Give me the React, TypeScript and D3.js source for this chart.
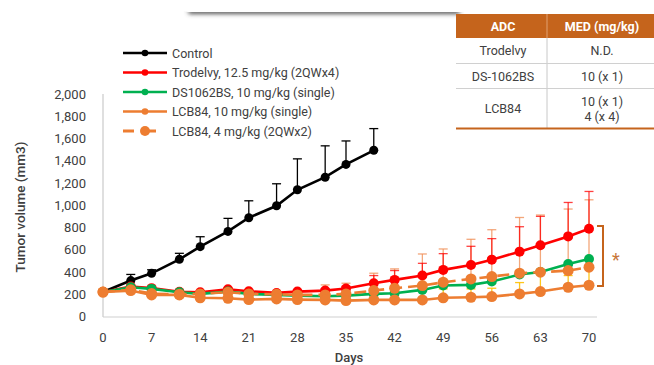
import * as d3 from "d3";
import React from "react";

const days = [0, 4, 7, 11, 14, 18, 21, 25, 28, 32, 35, 39, 42, 46, 49, 53, 56, 60, 63, 67, 70];
const controlDays = [0, 4, 7, 11, 14, 18, 21, 25, 28, 32, 35, 39];

const control = [220, 323, 388, 514, 628, 765, 888, 995, 1139, 1252, 1367, 1494];
const controlErr = [0, 55, 32, 54, 89, 117, 152, 198, 278, 282, 211, 195];

const trodelvy = [220, 269, 255, 222, 218, 245, 227, 212, 224, 233, 252, 299, 329, 368, 419, 463, 511, 583, 640, 720, 789];
const trodelvyErr = [0, 10, 12, 10, 10, 12, 10, 10, 10, 15, 20, 69, 84, 110, 146, 168, 189, 224, 260, 305, 335];

const ds1062 = [220, 263, 248, 218, 203, 224, 203, 194, 188, 182, 188, 203, 209, 239, 278, 284, 314, 377, 400, 472, 517];

const lcb10 = [220, 233, 194, 194, 168, 164, 152, 158, 152, 149, 143, 149, 149, 149, 168, 173, 179, 203, 224, 263, 281];
const lcb10Err = [0, 20, 30, 30, 40, 40, 40, 40, 40, 45, 45, 50, 60, 99, 80, 75, 75, 102, 174, 105, 150];

const lcb4 = [220, 240, 206, 200, 203, 218, 203, 200, 194, 194, 203, 233, 254, 278, 308, 338, 359, 389, 398, 413, 443];
const lcb4Err = [0, 10, 10, 10, 10, 10, 10, 10, 20, 90, 96, 156, 174, 284, 299, 356, 421, 501, 514, 553, 606];

const yTicks = [0, 200, 400, 600, 800, 1000, 1200, 1400, 1600, 1800, 2000];
const xTicks = [0, 7, 14, 21, 28, 35, 42, 49, 56, 63, 70];

const legendLabels = [
  "Control",
  "Trodelvy, 12.5 mg/kg (2QWx4)",
  "DS1062BS, 10 mg/kg (single)",
  "LCB84, 10 mg/kg (single)",
  "LCB84, 4 mg/kg (2QWx2)",
];

const tableHead = ["ADC", "MED (mg/kg)"];
const tableRows = [
  ["Trodelvy", ["N.D."]],
  ["DS-1062BS", ["10 (x 1)"]],
  ["LCB84", ["10 (x 1)", "4 (x 4)"]],
] as [string, string[]][];

const BLACK = "#000000";
const RED = "#ff0000";
const GREEN = "#00b050";
const ORANGE = "#ed7d31";
const GOLD = "#ffc000";
const BRICK = "#c5641c";
const TEXT = "#404040";
const FONT = "Roboto, 'Noto Sans', sans-serif";

export default function App() {
  const width = 654;
  const height = 365;

  const x = d3.scaleLinear().domain([0, 70]).range([103, 589]);
  const y = d3.scaleLinear().domain([0, 2000]).range([316.5, 94]);

  const line = d3
    .line<[number, number]>()
    .x((d) => x(d[0]))
    .y((d) => y(d[1]));

  const pts = (xs: number[], vs: number[]) => xs.map((d, i) => [d, vs[i]] as [number, number]);

  const errBars = (xs: number[], vs: number[], es: number[], color: string, op: number, key: string) =>
    xs.map((d, i) =>
      es[i] > 0 ? (
        <g key={key + i} stroke={color} strokeOpacity={op} strokeWidth={1.3}>
          <line x1={x(d)} x2={x(d)} y1={y(vs[i])} y2={y(vs[i] + es[i])} />
          <line x1={x(d) - 4.5} x2={x(d) + 4.5} y1={y(vs[i] + es[i])} y2={y(vs[i] + es[i])} />
        </g>
      ) : null
    );

  const series = [
    { xs: controlDays, vs: control, color: BLACK, r: 4.5, dash: "" },
    { xs: days, vs: trodelvy, color: RED, r: 5, dash: "" },
    { xs: days, vs: ds1062, color: GREEN, r: 5, dash: "" },
    { xs: days, vs: lcb4, color: ORANGE, r: 5.5, dash: "12 6" },
    { xs: days, vs: lcb10, color: ORANGE, r: 5.5, dash: "" },
  ];

  const legendColors = [BLACK, RED, GREEN, ORANGE, ORANGE];
  const legendY = d3.scalePoint<number>().domain(d3.range(5)).range([53, 131]);

  const rowY = [14, 38, 63.5, 88.5, 128.5];

  return (
    <svg width={width} height={height} style={{ position: "absolute", left: 0, top: 0, background: "#fff" }}>
      <defs>
        <filter id="blur" x="-10%" y="-200%" width="120%" height="500%">
          <feGaussianBlur stdDeviation="2.2" />
        </filter>
      </defs>

      {/* cut-off panel shadow */}
      <rect x={188} y={9} width={272} height={5} rx={3} fill="#555" filter="url(#blur)" />
      <rect x={180} y={-10} width={290} height={22} rx={8} fill="#fff" />

      {/* axes */}
      <line x1={103} x2={103} y1={94} y2={317} stroke="#bfbfbf" strokeWidth={1} />
      <line x1={103} x2={597} y1={317} y2={317} stroke="#d0d0d0" strokeWidth={1.2} />

      {yTicks.map((t) => (
        <text key={t} x={86} y={y(t)} dy="0.36em" textAnchor="end" fontFamily={FONT} fontSize={13} fill={TEXT}>
          {d3.format(",")(t)}
        </text>
      ))}
      {xTicks.map((t) => (
        <text key={t} x={x(t)} y={337} dy="0.36em" textAnchor="middle" fontFamily={FONT} fontSize={13} fill={TEXT}>
          {t}
        </text>
      ))}
      <text
        transform="translate(20,207) rotate(-90)"
        textAnchor="middle"
        dy="0.36em"
        fontFamily={FONT}
        fontSize={13.5}
        fontWeight={500}
        fill={TEXT}
      >
        Tumor volume (mm3)
      </text>
      <text x={349} y={357} dy="0.36em" textAnchor="middle" fontFamily={FONT} fontSize={13} fontWeight={500} fill={TEXT}>
        Days
      </text>

      {/* error bars */}
      {errBars(controlDays, control, controlErr, BLACK, 1, "c")}
      {errBars(days, lcb10, lcb10Err, GOLD, 0.9, "g")}
      {errBars(days, lcb4, lcb4Err, "#f0915a", 0.8, "o")}
      {errBars(days, trodelvy, trodelvyErr, RED, 0.75, "r")}

      {/* series */}
      {series.map((s, k) => (
        <g key={k}>
          <path
            d={line(pts(s.xs, s.vs)) || ""}
            fill="none"
            stroke={s.color}
            strokeWidth={2.6}
            strokeDasharray={s.dash}
          />
          {s.xs.map((d, i) => (
            <circle key={i} cx={x(d)} cy={y(s.vs[i])} r={s.r} fill={s.color} />
          ))}
        </g>
      ))}

      {/* legend */}
      {legendLabels.map((lab, i) => (
        <g key={lab} transform={`translate(0,${legendY(i)})`}>
          <line
            x1={123}
            x2={167}
            stroke={legendColors[i]}
            strokeWidth={i === 4 ? 3 : 2.6}
            strokeDasharray={i === 4 ? "11 11" : ""}
          />
          <circle cx={145} cy={0} r={i === 4 ? 5 : 3.3} fill={legendColors[i]} />
          <text x={172} dy="0.36em" fontFamily={FONT} fontSize={12.5} fill={TEXT}>
            {lab}
          </text>
        </g>
      ))}

      {/* significance bracket */}
      <path d="M597,226 H603 V286 H597" fill="none" stroke={BRICK} strokeWidth={2} />
      <text x={616} y={266} textAnchor="middle" fontFamily={FONT} fontSize={18} fill="#c8773a">
        *
      </text>

      {/* MED table */}
      <rect x={456} y={rowY[0]} width={200} height={rowY[1] - rowY[0]} fill={BRICK} />
      <text x={503} y={26} dy="0.36em" textAnchor="middle" fontFamily={FONT} fontSize={12.5} fontWeight={700} fill="#fff">
        {tableHead[0]}
      </text>
      <text x={602} y={26} dy="0.36em" textAnchor="middle" fontFamily={FONT} fontSize={12.5} fontWeight={700} fill="#fff">
        {tableHead[1]}
      </text>
      <line x1={547} x2={547} y1={rowY[0]} y2={rowY[1]} stroke="#e0a070" strokeWidth={1} />
      <line x1={547} x2={547} y1={rowY[1]} y2={rowY[4]} stroke="#c8c8c8" strokeWidth={1} />
      {[rowY[2], rowY[3]].map((ry) => (
        <line key={ry} x1={456} x2={654} y1={ry} y2={ry} stroke="#d0d0d0" strokeWidth={1} />
      ))}
      <line x1={456} x2={654} y1={rowY[4]} y2={rowY[4]} stroke={BRICK} strokeWidth={2} />
      {tableRows.map(([name, vals], i) => {
        const mid = (rowY[i + 1] + rowY[i + 2]) / 2;
        return (
          <g key={name}>
            <text x={503} y={mid} dy="0.36em" textAnchor="middle" fontFamily={FONT} fontSize={12.5} fill={TEXT}>
              {name}
            </text>
            {vals.map((v, j) => (
              <text
                key={v}
                x={602}
                y={mid + (j - (vals.length - 1) / 2) * 15}
                dy="0.36em"
                textAnchor="middle"
                fontFamily={FONT}
                fontSize={12.5}
                fill={TEXT}
              >
                {v}
              </text>
            ))}
          </g>
        );
      })}
    </svg>
  );
}
